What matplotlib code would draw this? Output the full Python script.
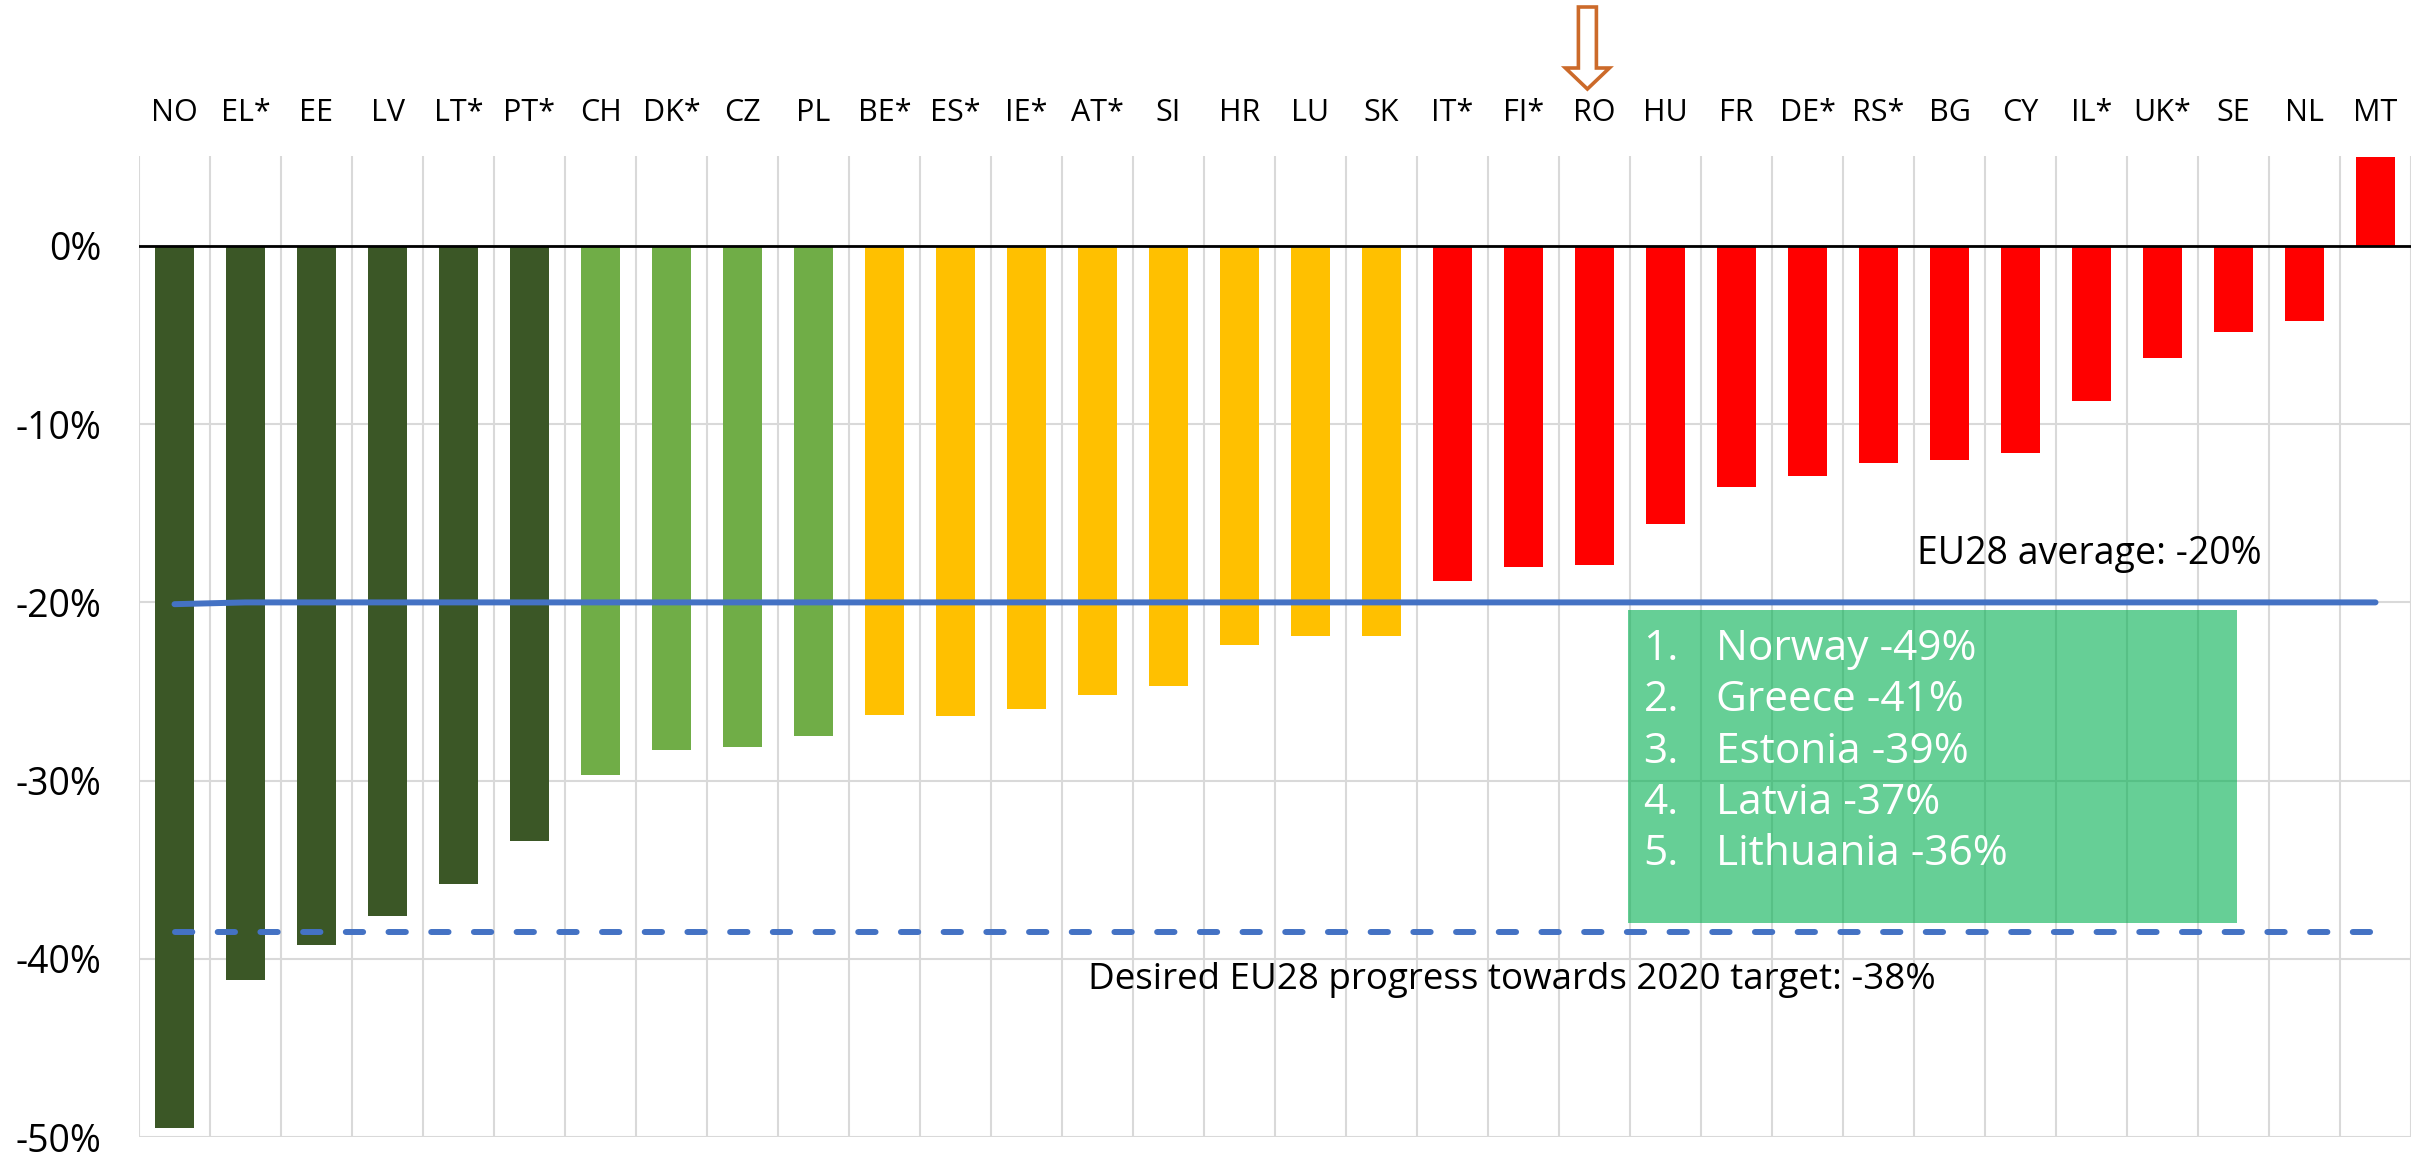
import matplotlib
matplotlib.use("Agg")
import matplotlib.pyplot as plt
from matplotlib.patches import Rectangle, FancyArrow
from matplotlib.transforms import IdentityTransform
import numpy as np

plt.rcParams['font.family'] = ['Open Sans', 'DejaVu Sans']

# countries, ordered as in the chart
countries = ['NO', 'EL*', 'EE', 'LV', 'LT*', 'PT*', 'CH', 'DK*', 'CZ', 'PL',
             'BE*', 'ES*', 'IE*', 'AT*', 'SI', 'HR', 'LU', 'SK',
             'IT*', 'FI*', 'RO', 'HU', 'FR', 'DE*', 'RS*', 'BG', 'CY', 'IL*',
             'UK*', 'SE', 'NL', 'MT']
# change in % (MT runs off the top)
change = [-49.5, -41.2, -39.2, -37.6, -35.8, -33.4, -29.7, -28.3, -28.1, -27.5,
          -26.3, -26.4, -26.0, -25.2, -24.7, -22.4, -21.9, -21.9,
          -18.8, -18.0, -17.9, -15.6, -13.5, -12.9, -12.2, -12.0, -11.6, -8.7,
          -6.3, -4.8, -4.2, 5.0]
group = ['top'] * 6 + ['good'] * 4 + ['mid'] * 8 + ['low'] * 14
eu_average = [-20.1, -20.0, -20.0, -20.0, -20.0, -20.0, -20.0, -20.0, -20.0, -20.0,
              -20.0, -20.0, -20.0, -20.0, -20.0, -20.0, -20.0, -20.0, -20.0, -20.0,
              -20.0, -20.0, -20.0, -20.0, -20.0, -20.0, -20.0, -20.0, -20.0, -20.0,
              -20.0, -20.0]
eu_target = [-38.5] * 32
ranking = ['Norway -49%', 'Greece -41%', 'Estonia -39%', 'Latvia -37%', 'Lithuania -36%']
highlight = 'RO'

group_colors = {'top': '#3B5726', 'good': '#70AD47', 'mid': '#FFC000', 'low': '#FF0000'}

fig = plt.figure(figsize=(24.23, 11.53), dpi=100)
ax = fig.add_axes([139 / 2423, 1 - 1137 / 1153, (2411 - 139) / 2423, (1137 - 156) / 1153])

x = np.arange(len(countries))
ax.bar(x, change, width=0.56, color=[group_colors[g] for g in group], zorder=2)

ax.axhline(0, color='black', lw=2, zorder=3)
ax.plot(x, eu_average, color='#4472C4', lw=4.3, solid_capstyle='round', zorder=4)
ax.plot(x, eu_target, color='#4472C4', lw=4.3, ls=(0, (2.9, 4.25)),
        dash_capstyle='round', zorder=4)

ax.set_xlim(-0.5, len(countries) - 0.5)
ax.set_ylim(-50, 5.05)

# grid: horizontal every 10%, vertical between categories
ax.set_yticks(np.arange(-50, 1, 10))
ax.set_yticklabels([f'{v}%' for v in range(-50, 1, 10)])
ax.set_xticks(x)
ax.set_xticklabels(countries)
ax.set_xticks(np.arange(-0.5, len(countries), 1), minor=True)
ax.grid(axis='y', which='major', color='#D9D9D9', lw=1.5, zorder=0)
ax.grid(axis='x', which='minor', color='#D9D9D9', lw=1.5, zorder=0)
ax.xaxis.tick_top()
ax.tick_params(axis='x', which='both', length=0, pad=20, labelsize=22)
ax.tick_params(axis='y', length=0, pad=27, labelsize=27)
for s in ax.spines.values():
    s.set_visible(False)

# annotations
ax.text(24.54, -17.87, 'EU28 average: -20%', fontsize=27, va='baseline')
ax.text(12.87, -41.7, 'Desired EU28 progress towards 2020 target: -38%',
        fontsize=26.5, va='baseline')

ax.add_patch(Rectangle((20.475, -37.97), 29.05 - 20.475, 37.97 - 20.43,
                       facecolor='#00B050', alpha=0.6, lw=0, zorder=5))
for i, line in enumerate(ranking):
    yb = -23.24 - i * 2.875
    ax.text(20.69, yb, f'{i + 1}.', color='white', fontsize=30.5, va='baseline', zorder=6)
    ax.text(21.71, yb, line, color='white', fontsize=30.5, va='baseline', zorder=6)

# hollow arrow over the highlighted country
xa = ax.transData.transform((countries.index(highlight) - 0.1, 0))[0]
fig.patches.append(FancyArrow(xa, 1153 - 7, 0, -(89 - 7), width=18, head_width=44,
                              head_length=21, length_includes_head=True,
                              facecolor='white', edgecolor='#CC6A2A', lw=2.6,
                              transform=IdentityTransform(), figure=fig))

fig.savefig('out.png', dpi=100)
